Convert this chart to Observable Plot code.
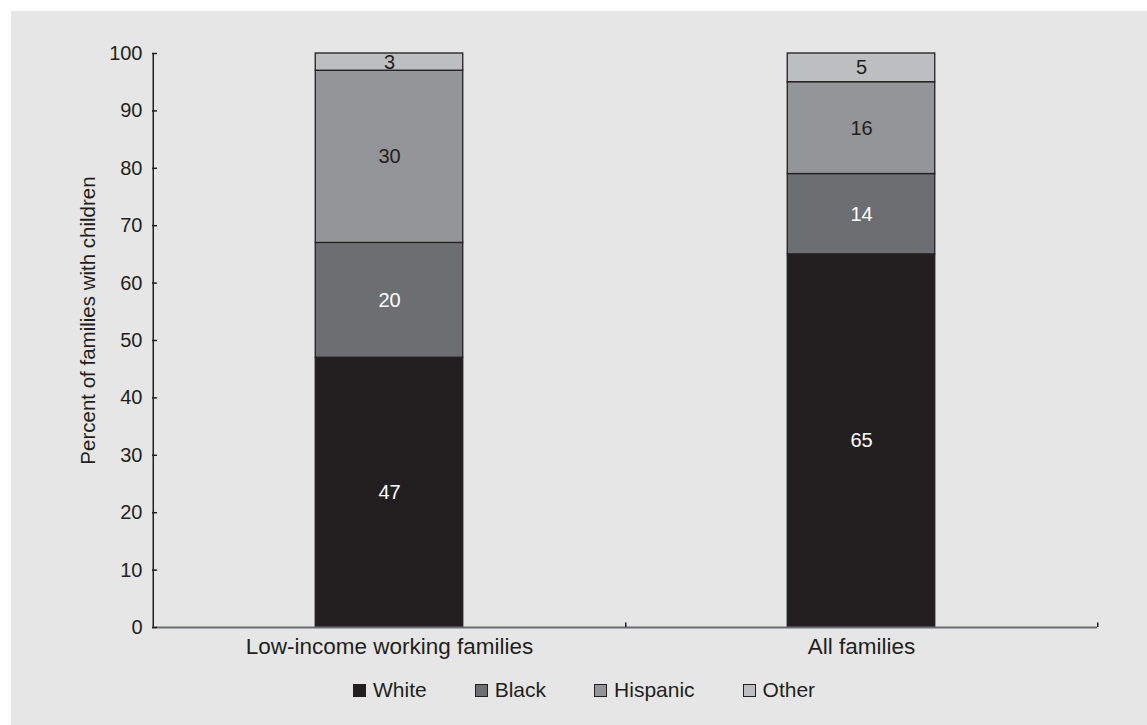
<!DOCTYPE html>
<html>
<head>
<meta charset="utf-8">
<script src="https://cdn.jsdelivr.net/npm/d3@7"></script>
<script src="https://cdn.jsdelivr.net/npm/@observablehq/plot@0.6"></script>
<style>
  html, body { margin: 0; padding: 0; background: #ffffff; }
  body { width: 1147px; height: 725px; position: relative; overflow: hidden;
         font-family: "Liberation Sans", Arial, Helvetica, sans-serif; color: #231f20; }
  #panel { position: absolute; left: 11px; top: 11px; width: 1136px; height: 714px; background: #e6e6e6; }
  #chart { position: absolute; left: 0; top: 0; }
  #legend { position: absolute; left: 353px; top: 678px; display: flex; gap: 48px; align-items: center;
            font-size: 21px; line-height: 24px; }
  #legend .item { display: flex; align-items: center; gap: 7px; }
  #legend .sw { width: 11px; height: 11px; border: 1px solid #231f20; display: inline-block; }
</style>
</head>
<body>
<div id="panel"></div>
<div id="chart"></div>
<div id="legend"></div>
<script>
// ---- data ----
const categories = ["Low-income working families", "All families"];
const groups = ["White", "Black", "Hispanic", "Other"];
const lowIncomeValues = [47, 20, 30, 3];
const allFamiliesValues = [65, 14, 16, 5];
const yTicks = [0, 10, 20, 30, 40, 50, 60, 70, 80, 90, 100];
const yLabel = "Percent of families with children";

// ---- styles ----
const fillColors = ["#231f20", "#6d6e71", "#939598", "#bcbec0"];
const textColors = ["#ffffff", "#ffffff", "#231f20", "#231f20"];

const seriesByCategory = [lowIncomeValues, allFamiliesValues];
const rows = [];
categories.forEach((c, i) => {
  groups.forEach((g, j) => {
    rows.push({category: c, group: g, value: seriesByCategory[i][j]});
  });
});

const W = 1147, H = 672;
const mL = 152, mR = 50, mT = 53, mB = 45;
const band = (W - mL - mR) / categories.length;
const barW = 148;
const inset = (band - barW) / 2;
const gi = d => groups.indexOf(d.group);

const chart = Plot.plot({
  width: W,
  height: H,
  marginLeft: mL,
  marginRight: mR,
  marginTop: mT,
  marginBottom: mB,
  style: {background: "transparent", fontFamily: '"Liberation Sans", Arial, Helvetica, sans-serif', color: "#231f20"},
  x: {type: "band", domain: categories, padding: 0, label: null},
  y: {domain: [0, 100], label: null},
  color: {type: "identity"},
  marks: [
    Plot.barY(rows, Plot.stackY({
      x: "category", y: "value",
      fill: d => fillColors[gi(d)],
      stroke: "#231f20", strokeWidth: 1.3,
      insetLeft: inset, insetRight: inset
    })),
    Plot.text(rows, Plot.stackY({
      x: "category", y: "value", text: d => String(d.value),
      fill: d => textColors[gi(d)],
      fontSize: 20
    })),
    // y axis line
    Plot.ruleX([categories[0]], {x: d => d, y1: 0, y2: 100, dx: -band / 2, stroke: "#231f20", strokeWidth: 1.5}),
    // x axis baseline
    Plot.ruleY([0], {stroke: "#6d6e71", strokeWidth: 2}),
    // x ticks at band edges (pointing up)
    Plot.ruleX(categories, {x: d => d, y1: 0, y2: 0.8, dx: band / 2, stroke: "#231f20", strokeWidth: 1.5}),
    // y ticks pointing inward
    Plot.axisY(yTicks, {tickSize: 5, dx: 5, text: null, label: null, stroke: "#231f20", strokeWidth: 1.5}),
    // y tick labels
    Plot.axisY(yTicks, {tickSize: 0, tickPadding: 10, fontSize: 20, fill: "#231f20", label: null}),
    // y axis title
    Plot.text([yLabel], {
      text: d => d, frameAnchor: "left", textAnchor: "middle", rotate: -90, dx: -64, dy: -20,
      fontSize: 20.5, fill: "#231f20"
    }),
    Plot.axisX({tickSize: 0, tickPadding: 11, fontSize: 22.5, fill: "#231f20", label: null})
  ]
});
document.getElementById("chart").appendChild(chart);

// ---- legend ----
const legend = document.getElementById("legend");
groups.forEach((g, j) => {
  const item = document.createElement("span");
  item.className = "item";
  const sw = document.createElement("span");
  sw.className = "sw";
  sw.style.background = fillColors[j];
  const label = document.createElement("span");
  label.textContent = g;
  item.appendChild(sw);
  item.appendChild(label);
  legend.appendChild(item);
});
</script>
</body>
</html>
